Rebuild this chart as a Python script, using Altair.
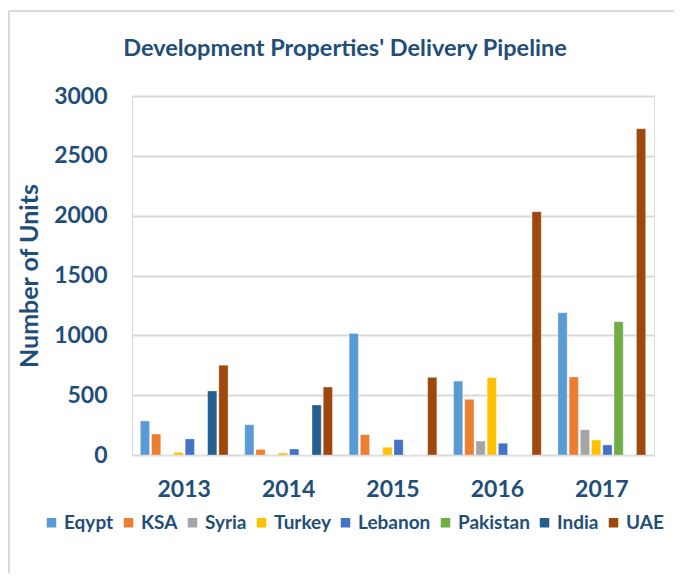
import altair as alt
import pandas as pd

years = ["2013", "2014", "2015", "2016", "2017"]
series = ["Eqypt", "KSA", "Syria", "Turkey", "Lebanon", "Pakistan", "India", "UAE"]
colors = ["#5B9BD5", "#ED7D31", "#A5A5A5", "#FFC000", "#4472C4", "#70AD47", "#255E91", "#9E480E"]
title_text = "Development Properties' Delivery Pipeline"

eqypt = [284, 253, 1016, 618, 1189]
ksa = [175, 45, 170, 465, 652]
syria = [0, 0, 0, 117, 211]
turkey = [22, 17, 64, 646, 125]
lebanon = [134, 50, 128, 98, 84]
pakistan = [0, 0, 0, 0, 1114]
india = [535, 418, 0, 0, 0]
uae = [749, 568, 649, 2033, 2726]

values = [eqypt, ksa, syria, turkey, lebanon, pakistan, india, uae]
rows = []
for s, vals in zip(series, values):
    for y, v in zip(years, vals):
        rows.append({"Year": y, "Country": s, "Units": v})
df = pd.DataFrame(rows)

TEXT = "#1F4E79"
FONT = "Lato"

bars = alt.Chart(df).mark_bar(stroke="white", strokeWidth=0.6, strokeOpacity=0.5).encode(
    x=alt.X("Year:N", sort=years,
            scale=alt.Scale(paddingInner=0.16, paddingOuter=0.08),
            axis=alt.Axis(title=None, labelAngle=0, ticks=False, domain=False,
                          labelFontSize=23, labelFontWeight="bold", labelColor=TEXT,
                          labelFont=FONT, labelPadding=23)),
    xOffset=alt.XOffset("Country:N", sort=series, scale=alt.Scale(paddingInner=0.18)),
    y=alt.Y("Units:Q", scale=alt.Scale(domain=[0, 3000], nice=False),
            axis=alt.Axis(title="Number of Units", values=[0, 500, 1000, 1500, 2000, 2500, 3000],
                          format="d", ticks=False, domain=False, grid=True, gridColor="#D9D9D9",
                          gridWidth=2, labelFontSize=23, labelFontWeight="bold", labelColor=TEXT,
                          labelFont=FONT, labelPadding=25, titleFontSize=25, titleFontWeight="bold",
                          titleColor=TEXT, titleFont=FONT, titleX=-103, titleY=179.5,
                          titleAngle=270, titleBaseline="middle", titleAlign="center")),
    color=alt.Color("Country:N", sort=series,
                    scale=alt.Scale(domain=series, range=colors),
                    legend=alt.Legend(title=None, orient="none", direction="horizontal",
                                      columns=8, legendX=-90, legendY=417,
                                      symbolType="square", symbolSize=90, symbolStrokeWidth=0,
                                      labelFontSize=19, labelFontWeight="bold", labelColor=TEXT,
                                      labelFont=FONT, labelOffset=3, columnPadding=5, padding=0)),
)

title = alt.Chart(pd.DataFrame({"t": [title_text]})).mark_text(
    fontSize=23.5, fontWeight="bold", color=TEXT, font=FONT, align="center", baseline="alphabetic"
).encode(text="t:N", x=alt.value(213), y=alt.value(-40))

frame_left = alt.Chart(pd.DataFrame({"k": [0]})).mark_rule(color="#D9D9D9", strokeWidth=2).encode(
    x=alt.value(-123), y=alt.value(-85), y2=alt.value(490))
frame_top = alt.Chart(pd.DataFrame({"k": [0]})).mark_rule(color="#D9D9D9", strokeWidth=2).encode(
    x=alt.value(-123), x2=alt.value(560), y=alt.value(-85))

chart = alt.layer(frame_left, frame_top, title, bars).properties(
    width=522, height=359,
    autosize=alt.AutoSizeParams(type="none"),
    padding={"left": 124, "top": 88, "right": 20, "bottom": 118},
).configure_view(stroke=None).configure(background="white")

chart.save("out.html", embed_options={"renderer": "svg", "actions": False})
